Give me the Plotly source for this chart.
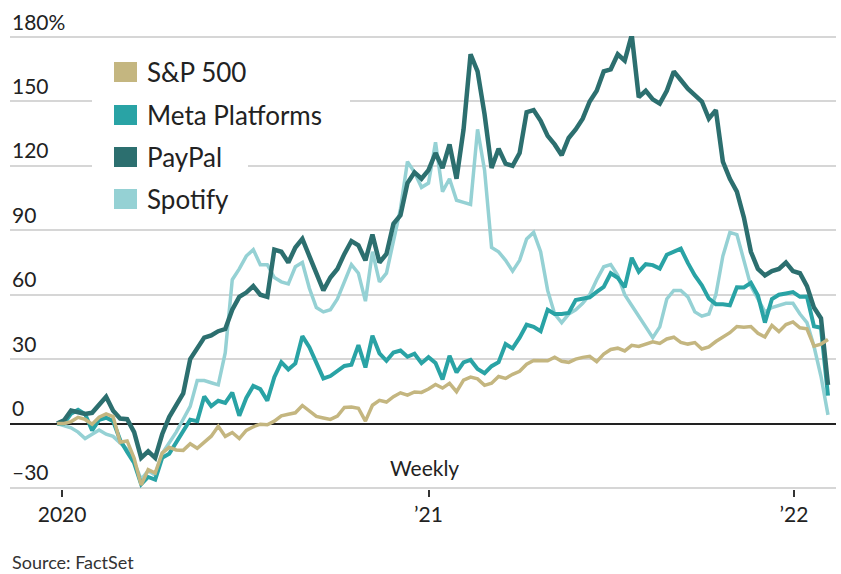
import pandas as pd
import plotly.graph_objects as go

# ---------------- data (percent change since start of 2020, weekly) ----------------
dates = ["2019-12-27"] + [d.strftime("%Y-%m-%d") for d in pd.date_range("2020-01-03", periods=110, freq="7D")]

sp500 = [0,
    0, 0.9, 2.9, 1.9, -0.3, 2.9, 4.5, 3.2, -8.7, -8.1,
    -16.2, -28.7, -21.5, -23.1, -13.8, -11.1, -12.3, -12.5, -9.4, -11.5,
    -8.7, -5.9, -1.3, -6.0, -4.2, -7.0, -3.2, -1.5, -0.3, -0.6,
    1.1, 3.6, 4.3, 5.0, 8.4, 5.9, 3.3, 2.6, 1.9, 3.5,
    7.5, 7.7, 7.1, 1.1, 8.5, 10.8, 10.0, 12.5, 14.3, 13.2,
    14.7, 14.5,
    16.1, 18.2, 16.5, 18.7, 14.8, 20.2, 21.6, 20.8, 17.8, 18.8,
    21.9, 21.0, 22.9, 24.3, 27.6, 29.4, 29.2, 29.2, 30.9, 29.0,
    28.5, 30.0, 30.8, 31.3, 28.8, 32.3, 34.5, 35.1, 33.8, 36.4,
    35.9, 37.2, 38.1, 37.3, 39.4, 40.2, 37.8, 37.0, 37.7, 34.7,
    35.7, 38.2, 40.5, 42.3, 45.2, 44.8, 45.2, 42.0, 40.3, 45.7,
    42.8, 46.1, 47.3,
    44.6, 44.1, 36.0, 37.0, 39.1]

meta = [0,
    0, 4.6, 6.4, 4.4, -3.2, 1.7, 2.7, 1.1, -7.7, -13.2,
    -18.4, -28.3, -24.9, -26.1, -16.0, -14.1, -8.9, -3.1, 1.8, 1.1,
    12.6, 8.1, 10.6, 9.6, 14.4, 3.6, 11.9, 17.5, 16.0, 10.6,
    21.6, 28.6, 25.2, 28.0, 40.7, 35.5, 27.8, 21.0, 22.1, 24.6,
    26.8, 27.4, 36.5, 26.1, 40.9, 32.7, 29.2, 33.1, 34.0, 31.1,
    32.5, 28.1,
    30.9, 28.2, 20.5, 31.5, 23.8, 28.5, 29.6, 25.4, 23.4, 26.7,
    28.6, 37.0, 35.0, 40.0, 46.0, 45.0, 43.0, 53.0, 51.0, 51.0,
    51.5, 57.5, 58.3, 58.8, 61.3, 63.6, 70.0, 67.9, 63.5, 77.2,
    70.7, 74.2, 73.8, 72.2, 78.6, 80.3, 81.5, 74.8, 69.0, 64.4,
    58.2, 55.6, 55.6, 55.1, 63.5, 63.4, 65.5, 59.6, 47.0, 58.0,
    60.0, 60.6, 61.2,
    59.0, 59.1, 45.3, 44.6, 13.0]

paypal = [0,
    1.5, 6, 5, 4.5, 5, 9, 12.5, 6, 2.3, 2,
    -4, -16, -13, -16, -5, 3, 9, 14, 30, 35,
    40, 41, 43, 44, 53, 59, 61, 64, 60, 59,
    81, 80, 75, 82, 86, 78, 70, 62, 68, 72,
    79, 85, 83, 76, 88, 75, 79, 93, 97, 112,
    117, 114,
    118, 126, 119, 130, 114, 137, 172, 164, 144, 119,
    128, 121, 120, 126, 145, 146, 141, 134, 130, 125,
    133, 137, 142, 150, 155, 164, 165, 172, 169, 181,
    152, 155, 151, 149, 155, 164, 160, 156, 153, 150,
    142, 146, 122, 114, 108, 96, 80, 72, 69, 71,
    72, 75, 71,
    70, 64, 54, 49, 18]

spotify = [0,
    -1, -2, -4, -7, -5, -3, -5, -6, -9, -12,
    -18, -26, -22, -24, -14, -9, -4, 2, 8, 20,
    20, 19, 18, 33, 67, 72, 78, 81, 74, 74,
    68, 66, 65, 73, 75, 63, 54, 52, 53, 58,
    66, 74, 70, 57, 80, 66, 70, 86, 100, 122,
    117, 110,
    112, 131, 108, 114, 104, 103, 102, 137, 118, 82,
    80, 76, 71, 76, 86, 89, 80, 62, 51, 47,
    51, 53, 56, 60, 67, 73, 74, 69, 60, 55,
    50, 45, 40, 45, 58, 62, 62, 59, 52, 50,
    51, 60, 78, 89, 88, 76, 64, 58, 52, 54,
    55, 56, 56,
    51, 47, 36, 22, 4]

series_names = ["S&P 500", "Meta Platforms", "PayPal", "Spotify"]
series_colors = ["#c4b680", "#29a3a5", "#2c6f6f", "#95d1d4"]
y_tickvals = [-30, 0, 30, 60, 90, 120, 150, 180]
y_ticktext = ["–30", "0", "30", "60", "90", "120", "150", "180%"]
x_tickvals = ["2020-01-01", "2021-01-01", "2022-01-01"]
x_ticktext = ["2020", "’21", "’22"]

FONT = "Lato, 'Open Sans', sans-serif"
W, H = 841, 574
ML, MR, MT, MB = 10, 5, 36, 85

fig = go.Figure()
values = {"S&P 500": sp500, "Meta Platforms": meta, "PayPal": paypal, "Spotify": spotify}
widths = {"S&P 500": 3.5, "Meta Platforms": 4, "PayPal": 4.5, "Spotify": 3.5}
for name in ["Spotify", "Meta Platforms", "PayPal", "S&P 500"]:
    c = series_colors[series_names.index(name)]
    fig.add_trace(go.Scatter(x=dates, y=values[name], mode="lines", name=name,
                             line=dict(color=c, width=widths[name], shape="linear"),
                             showlegend=False, hoverinfo="skip"))

# legend (custom, squares with white background)
pw = W - ML - MR
ph = H - MT - MB
def px_x(p):
    return (p - ML) / pw
def px_y(p):
    return (H - MB - p) / ph

shapes = []
annotations = []
row_centers = [72, 115, 157, 199]
bg_right = [272, 350, 248, 254]
for k, name in enumerate(series_names):
    cy = row_centers[k]
    shapes.append(dict(type="rect", xref="paper", yref="paper",
                       x0=px_x(92), x1=px_x(bg_right[k]), y0=px_y(cy + 21), y1=px_y(cy - 21),
                       fillcolor="white", line=dict(width=0), layer="above"))
for k, name in enumerate(series_names):
    cy = row_centers[k]
    shapes.append(dict(type="rect", xref="paper", yref="paper",
                       x0=px_x(114), x1=px_x(137), y0=px_y(cy + 10), y1=px_y(cy - 10),
                       fillcolor=series_colors[k], line=dict(width=0), layer="above"))
    annotations.append(dict(xref="paper", yref="paper", x=px_x(145), y=px_y(cy),
                            xanchor="left", yanchor="middle", text=name, showarrow=False,
                            font=dict(family=FONT, size=26, color="#222222")))

# y-axis labels sitting above their gridlines
for v, t in zip(y_tickvals, y_ticktext):
    annotations.append(dict(xref="paper", yref="y", x=0, y=v, xanchor="left", yanchor="middle",
                            yshift=16, text=t, showarrow=False,
                            font=dict(family=FONT, size=21, color="#222222")))

annotations.append(dict(xref="x", yref="y", x="2021-01-01", y=-30, xanchor="center", yanchor="bottom",
                        yshift=6, xshift=-4, text="Weekly", showarrow=False,
                        font=dict(family=FONT, size=21, color="#222222")))
annotations.append(dict(xref="paper", yref="paper", x=0, y=px_y(562), xanchor="left", yanchor="middle",
                        text="Source: FactSet", showarrow=False,
                        font=dict(family=FONT, size=18, color="#333333")))

fig.update_layout(
    width=W, height=H,
    margin=dict(l=ML, r=MR, t=MT, b=MB, pad=0),
    paper_bgcolor="white", plot_bgcolor="white",
    shapes=shapes, annotations=annotations,
    showlegend=False,
    xaxis=dict(type="date", range=["2019-11-10", "2022-02-12"],
               tickvals=x_tickvals, ticktext=x_ticktext,
               ticks="outside", ticklen=7, tickwidth=1.5, tickcolor="#333333",
               showgrid=False, zeroline=False, showline=False,
               tickfont=dict(family=FONT, size=21, color="#222222")),
    yaxis=dict(range=[-30.5, 180.5], tickvals=y_tickvals,
               showticklabels=False, ticks="",
               showgrid=True, gridcolor="#d6d6d6", gridwidth=1.5,
               zeroline=True, zerolinecolor="#222222", zerolinewidth=2,
               showline=False),
)

fig.write_html("out.html")
